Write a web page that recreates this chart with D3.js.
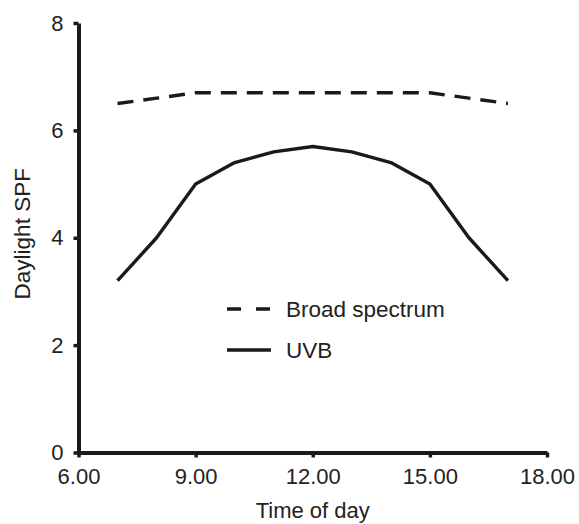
<!DOCTYPE html>
<html>
<head>
<meta charset="utf-8">
<script src="https://cdn.jsdelivr.net/npm/d3@7"></script>
<style>
  body { margin: 0; background: #fff; }
  svg text { font-family: "Liberation Sans", Arial, sans-serif; fill: #222; }
</style>
</head>
<body>
<div id="chart"></div>
<script>
// hours of the day and the two SPF series
var hours = [7, 8, 9, 10, 11, 12, 13, 14, 15, 16, 17];
var broadSpectrum = [6.5, 6.6, 6.7, 6.7, 6.7, 6.7, 6.7, 6.7, 6.7, 6.6, 6.5];
var uvb = [3.2, 4.0, 5.0, 5.4, 5.6, 5.7, 5.6, 5.4, 5.0, 4.0, 3.2];
var xTicks = [6, 9, 12, 15, 18];
var yTicks = [0, 2, 4, 6, 8];
var legendNames = ["Broad spectrum", "UVB"];

var width = 579, height = 524;
var margin = {top: 23, right: 32, bottom: 71.5, left: 78.5};

var svg = d3.select("#chart").append("svg")
    .attr("width", width)
    .attr("height", height);

var x = d3.scaleLinear()
    .domain([6, 18])
    .range([margin.left, width - margin.right]);

var y = d3.scaleLinear()
    .domain([0, 8])
    .range([height - margin.bottom, margin.top]);

// axes
var xAxis = svg.append("g")
    .attr("transform", "translate(0," + y(0) + ")")
    .call(d3.axisBottom(x).tickValues(xTicks).tickFormat(d3.format(".2f")).tickSize(5).tickSizeOuter(0).tickPadding(11));

var yAxis = svg.append("g")
    .attr("transform", "translate(" + x(6) + ",0)")
    .call(d3.axisLeft(y).tickValues(yTicks).tickSize(5).tickSizeOuter(0).tickPadding(10));

[xAxis, yAxis].forEach(function(ax) {
  ax.select(".domain").attr("stroke", "#1a1a1a").attr("stroke-width", 4);
  ax.selectAll(".tick line").attr("stroke", "#1a1a1a").attr("stroke-width", 3.5);
  ax.selectAll(".tick text").attr("font-size", 22).attr("fill", "#222")
    .attr("font-family", "'Liberation Sans', Arial, sans-serif");
});

// axis titles
svg.append("text")
    .attr("x", x(12))
    .attr("y", 518)
    .attr("text-anchor", "middle")
    .attr("font-size", 22)
    .text("Time of day");

svg.append("text")
    .attr("transform", "translate(30," + (y(4) - 4) + ") rotate(-90)")
    .attr("text-anchor", "middle")
    .attr("font-size", 22.5)
    .text("Daylight SPF");

// lines
var line = d3.line()
    .x(function(d, i) { return x(hours[i]); })
    .y(function(d) { return y(d); });

svg.append("path")
    .datum(broadSpectrum)
    .attr("d", line)
    .attr("fill", "none")
    .attr("stroke", "#1a1a1a")
    .attr("stroke-width", 3.4)
    .attr("stroke-dasharray", "16,10");

svg.append("path")
    .datum(uvb)
    .attr("d", line)
    .attr("fill", "none")
    .attr("stroke", "#1a1a1a")
    .attr("stroke-width", 3.4)
    .attr("stroke-linejoin", "round");

// legend
var legend = svg.append("g").attr("transform", "translate(227,309)");
legendNames.forEach(function(name, i) {
  var g = legend.append("g").attr("transform", "translate(0," + (i * 41) + ")");
  g.append("line")
      .attr("x1", 0).attr("x2", 44)
      .attr("stroke", "#1a1a1a")
      .attr("stroke-width", 3.4)
      .attr("stroke-dasharray", i === 0 ? "14,15" : null);
  g.append("text")
      .attr("x", 59)
      .attr("dy", "0.35em")
      .attr("font-size", 22.5)
      .text(name);
});
</script>
</body>
</html>
